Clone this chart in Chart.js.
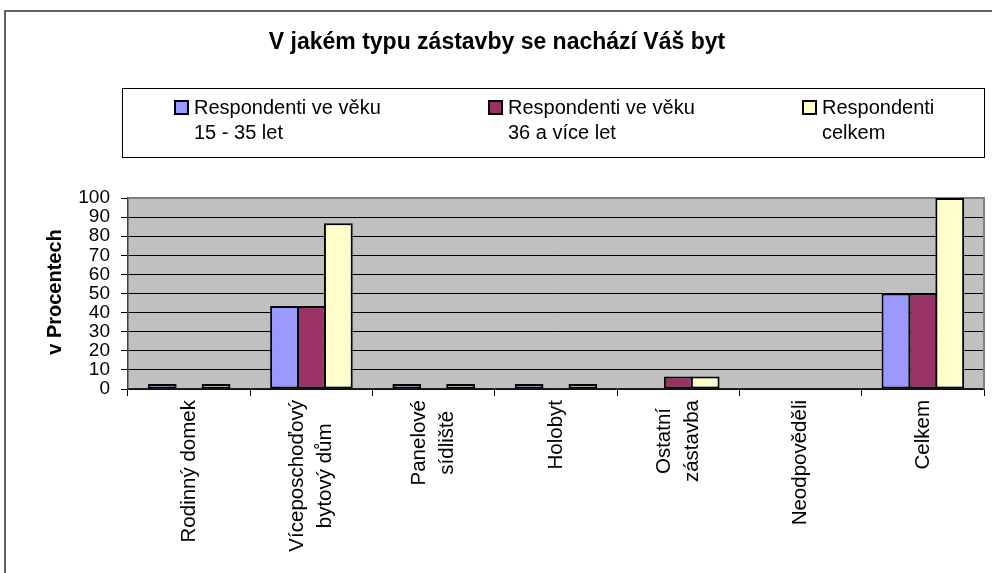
<!DOCTYPE html>
<html>
<head>
<meta charset="utf-8">
<script src="https://cdn.jsdelivr.net/npm/chart.js@4.4.1/dist/chart.umd.min.js"></script>
<style>
  html, body { margin: 0; padding: 0; background: #ffffff; }
  #wrap { position: relative; width: 992px; height: 573px; }
</style>
</head>
<body>
<div id="wrap"><canvas id="c" width="992" height="573"></canvas></div>
<script>
const chartTitle = 'V jakém typu zástavby se nachází Váš byt';
const yAxisTitle = 'v Procentech';
const categories = [
  ['Rodinný domek'],
  ['Víceposchoďový', 'bytový dům'],
  ['Panelové', 'sídliště'],
  ['Holobyt'],
  ['Ostatní', 'zástavba'],
  ['Neodpověděli'],
  ['Celkem']
];
const seriesNames = [
  ['Respondenti ve věku', '15 - 35 let'],
  ['Respondenti ve věku', '36 a více let'],
  ['Respondenti', 'celkem']
];
const young = [2.6, 43.4, 2.6, 2.6, 0, 0, 50];
const older = [0, 43.4, 0, 0, 6.6, 0, 50];
const total = [2.6, 86.8, 2.6, 2.6, 6.6, 0, 100];
const yTicks = [0, 10, 20, 30, 40, 50, 60, 70, 80, 90, 100];
const colors = ['#9999FF', '#993366', '#FFFFCC'];

const FONT = '"Liberation Sans", Arial, sans-serif';

const decorPlugin = {
  id: 'decor',
  beforeDraw(chart) {
    const ctx = chart.ctx;
    const a = chart.chartArea;
    ctx.save();
    ctx.fillStyle = '#ffffff';
    ctx.fillRect(0, 0, chart.width, chart.height);
    // outer frame
    ctx.strokeStyle = '#333333';
    ctx.lineWidth = 1.5;
    ctx.beginPath();
    ctx.moveTo(5, chart.height + 2);
    ctx.lineTo(5, 11);
    ctx.lineTo(chart.width + 2, 11);
    ctx.stroke();
    // plot background
    ctx.fillStyle = '#C0C0C0';
    ctx.fillRect(a.left, a.top, a.right - a.left, a.bottom - a.top);
    // title
    ctx.fillStyle = '#000000';
    ctx.font = 'bold 23px ' + FONT;
    ctx.textAlign = 'center';
    ctx.textBaseline = 'middle';
    ctx.fillText(chartTitle, 497, 43);
    // legend box
    ctx.strokeStyle = '#000000';
    ctx.lineWidth = 1;
    ctx.strokeRect(122.5, 88.5, 862, 69);
    ctx.font = '20px ' + FONT;
    ctx.textAlign = 'left';
    ctx.textBaseline = 'alphabetic';
    const textXs = [194, 508, 822];
    seriesNames.forEach((lines, i) => {
      const tx = textXs[i];
      ctx.fillStyle = colors[i];
      ctx.fillRect(tx - 19, 101, 13, 13);
      ctx.lineWidth = 2;
      ctx.strokeStyle = '#000000';
      ctx.strokeRect(tx - 19, 101, 13, 13);
      ctx.fillStyle = '#000000';
      lines.forEach((ln, j) => ctx.fillText(ln, tx, 114 + j * 25));
    });
    // y axis title
    ctx.save();
    ctx.translate(55, 292);
    ctx.rotate(-Math.PI / 2);
    ctx.font = 'bold 20px ' + FONT;
    ctx.textAlign = 'center';
    ctx.textBaseline = 'middle';
    ctx.fillText(yAxisTitle, 0, 0);
    ctx.restore();
    ctx.restore();
  },
  beforeDatasetsDraw(chart) {
    const ctx = chart.ctx;
    const a = chart.chartArea;
    ctx.save();
    ctx.strokeStyle = '#808080';
    ctx.lineWidth = 2;
    ctx.beginPath();
    ctx.moveTo(a.left, a.top);
    ctx.lineTo(a.right, a.top);
    ctx.lineTo(a.right, a.bottom);
    ctx.stroke();
    ctx.restore();
  },
  afterDraw(chart) {
    const ctx = chart.ctx;
    const xs = chart.scales.x;
    ctx.save();
    ctx.fillStyle = '#000000';
    ctx.font = '20.5px ' + FONT;
    ctx.textAlign = 'center';
    ctx.textBaseline = 'middle';
    const lineGap = 28;
    categories.forEach((lines, i) => {
      const cx = xs.getPixelForValue(i);
      let maxW = 0;
      lines.forEach(l => { maxW = Math.max(maxW, ctx.measureText(l).width); });
      const cy = chart.chartArea.bottom + 11 + maxW / 2;
      lines.forEach((l, j) => {
        const lx = cx + (j - (lines.length - 1) / 2) * lineGap;
        ctx.save();
        ctx.translate(lx, cy);
        ctx.rotate(-Math.PI / 2);
        ctx.fillText(l, 0, 0);
        ctx.restore();
      });
    });
    ctx.restore();
  }
};

const bw = c => (c.raw === 0 ? 0 : 2);

new Chart(document.getElementById('c'), {
  type: 'bar',
  data: {
    labels: categories,
    datasets: [
      { label: seriesNames[0].join(' '), data: young, backgroundColor: colors[0] },
      { label: seriesNames[1].join(' '), data: older, backgroundColor: colors[1] },
      { label: seriesNames[2].join(' '), data: total, backgroundColor: colors[2] }
    ].map(d => Object.assign(d, {
      borderColor: '#000000',
      borderWidth: bw,
      borderSkipped: false,
      categoryPercentage: 0.66,
      barPercentage: 1.07
    }))
  },
  plugins: [decorPlugin],
  options: {
    responsive: false,
    animation: false,
    events: [],
    layout: { padding: { top: 198, right: 8, left: 0, bottom: 0 } },
    plugins: {
      legend: { display: false },
      title: { display: false },
      tooltip: { enabled: false }
    },
    scales: {
      x: {
        offset: true,
        grid: {
          offset: true,
          drawOnChartArea: false,
          drawTicks: true,
          tickLength: 7,
          color: '#000000',
          lineWidth: 1
        },
        border: { display: true, color: '#202020', width: 1.5 },
        ticks: { display: false },
        afterFit(scale) { scale.height = 184; }
      },
      y: {
        min: 0,
        max: 100,
        afterBuildTicks(scale) { scale.ticks = yTicks.map(v => ({ value: v })); },
        grid: {
          color: '#000000',
          lineWidth: 1,
          drawTicks: true,
          tickLength: 7
        },
        border: { display: true, color: '#404040', width: 1.5 },
        ticks: {
          color: '#000000',
          font: { family: FONT, size: 19 },
          padding: 11,
          autoSkip: false
        },
        afterFit(scale) { scale.width = 128; }
      }
    }
  }
});
</script>
</body>
</html>
